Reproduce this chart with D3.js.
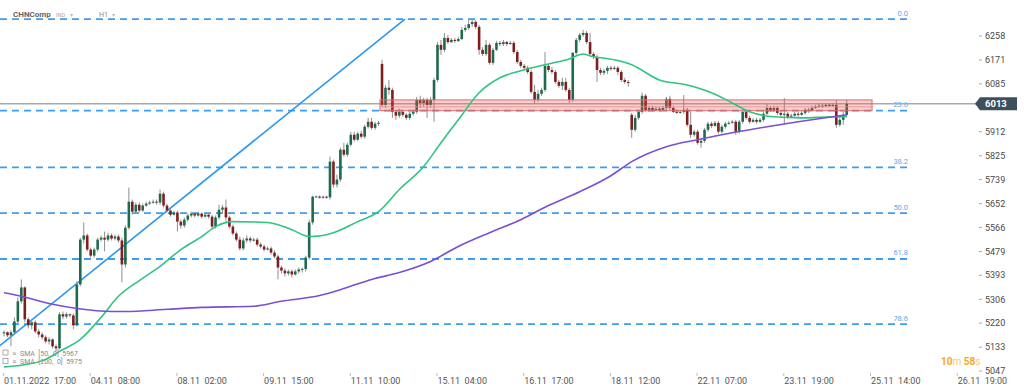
<!DOCTYPE html>
<html><head><meta charset="utf-8">
<script src="https://cdn.jsdelivr.net/npm/d3@7"></script>
<style>body{margin:0;background:#fff;} svg{display:block;font-family:Roboto,"Noto Sans",sans-serif;} text{white-space:pre;}</style>
</head><body><svg id="c" width="1024" height="391"></svg>
<script>
const title = "CHNComp", subType = "IND", timeframe = "H1";
const openP = [
5183,5187,5176,5187,5226,5299,5349,5234,5212,5223,
5190,5179,5169,5154,5161,5136,5129,5252,5244,5252,
5248,5212,5360,5522,5537,5486,5464,5486,5522,5529,
5522,5537,5526,5533,5519,5432,5565,5659,5623,5648,
5627,5645,5652,5656,5659,5656,5688,5645,5627,5612,
5620,5587,5573,5594,5609,5616,5609,5616,5605,5612,
5605,5569,5602,5630,5638,5602,5569,5544,5522,5490,
5519,5526,5519,5522,5504,5497,5486,5490,5475,5461,
5421,5410,5400,5407,5396,5407,5414,5416,5457,5584,
5677,5678,5674,5677,5675,5804,5721,5739,5847,5829,
5865,5901,5883,5905,5894,5930,5948,5926,5941,6157,
6009,6071,6063,5984,5970,5984,5973,5962,5977,5984,
6027,6016,6027,6009,6027,6099,6226,6208,6251,6236,
6244,6240,6247,6280,6287,6301,6309,6291,6208,6193,
6226,6161,6208,6233,6229,6236,6229,6233,6200,6164,
6150,6143,6128,6056,6027,6049,6063,6150,6135,6128,
6092,6078,6092,6063,6027,6197,6244,6262,6269,6236,
6193,6182,6135,6125,6132,6143,6139,6143,6128,6099,
6092,5973,5919,5962,5984,6042,5991,5998,5991,5995,
5991,5998,6031,5998,5984,5980,5984,5991,5937,5901,
5912,5872,5879,5919,5941,5933,5944,5912,5930,5941,
5944,5948,5912,5948,5984,5962,5948,5955,5948,5955,
5977,5998,5991,5998,5980,5973,5977,5966,5970,5977,
5973,5980,5991,5988,5998,6002,6006,6004,6009,6006,
6009,5937,5955,5973];
const highP = [
5194,5190,5194,5241,5313,5378,5353,5241,5234,5230,
5198,5187,5176,5169,5165,5143,5259,5262,5259,5255,
5255,5371,5529,5584,5544,5493,5493,5529,5537,5551,
5547,5544,5540,5540,5529,5573,5710,5667,5656,5656,
5652,5659,5663,5667,5667,5703,5695,5652,5634,5627,
5627,5594,5602,5616,5623,5620,5623,5620,5620,5620,
5612,5609,5648,5648,5667,5609,5576,5551,5533,5529,
5537,5533,5529,5529,5511,5504,5497,5497,5483,5468,
5428,5418,5414,5414,5414,5421,5421,5464,5594,5681,
5681,5681,5681,5681,5822,5811,5757,5854,5872,5872,
5912,5912,5912,5915,5937,5962,5962,5948,5951,6172,
6081,6099,6071,5991,5995,5991,5980,5984,5991,6038,
6042,6034,6034,6038,6107,6236,6244,6269,6262,6251,
6251,6255,6291,6298,6316,6319,6316,6298,6218,6244,
6233,6215,6240,6240,6244,6240,6240,6240,6208,6172,
6157,6150,6135,6081,6063,6071,6200,6157,6146,6135,
6099,6107,6107,6071,6200,6251,6269,6280,6276,6269,
6200,6190,6143,6139,6150,6150,6150,6150,6135,6107,
6099,5980,5973,5991,6053,6049,6006,6006,6002,6002,
6006,6038,6042,6006,5991,5991,6045,5998,5984,5919,
5919,5887,5926,5948,5948,5951,5951,5937,5948,5951,
5955,5955,5955,5991,5991,5970,5962,5962,5962,5991,
6013,6006,6006,6006,5988,6034,5984,5977,5984,5984,
5988,5998,5998,6006,6009,6013,6013,6013,6013,6016,
6027,5973,5984,6027];
const lowP = [
5172,5169,5136,5179,5219,5291,5223,5201,5198,5183,
5169,5161,5147,5143,5129,5118,5125,5234,5237,5241,
5198,5208,5353,5508,5479,5457,5457,5479,5515,5479,
5515,5519,5519,5511,5367,5421,5558,5612,5616,5620,
5623,5641,5648,5652,5648,5648,5638,5620,5605,5609,
5551,5562,5565,5587,5602,5602,5605,5598,5602,5598,
5562,5562,5594,5616,5587,5562,5537,5515,5483,5483,
5511,5511,5515,5497,5490,5479,5483,5468,5454,5378,
5400,5389,5392,5385,5392,5400,5403,5407,5450,5576,
5674,5670,5670,5670,5667,5710,5710,5731,5822,5822,
5858,5876,5879,5887,5887,5923,5919,5919,5933,6002,
5998,6045,5962,5955,5962,5966,5955,5955,5970,5977,
5998,6002,5962,5998,5948,6092,6190,6200,6229,6233,
6233,6236,6244,6273,6280,6291,6283,6190,6186,6186,
6154,6154,6204,6222,6222,6222,6226,6193,6157,6143,
6135,6121,6049,6013,6020,6042,6056,6128,6121,6085,
6071,6063,6056,6016,6020,6190,6236,6255,6229,6186,
6175,6092,6117,6117,6121,6132,6135,6117,6092,6085,
6074,5890,5912,5955,5977,5984,5984,5984,5988,5984,
5988,5991,5991,5980,5977,5977,5977,5930,5890,5894,
5865,5854,5872,5912,5926,5930,5905,5905,5923,5937,
5941,5901,5905,5941,5955,5941,5944,5941,5944,5948,
5973,5984,5984,5973,5966,5937,5959,5962,5966,5966,
5970,5973,5980,5984,5995,5998,5998,6002,6002,6002,
5926,5930,5937,5966];
const closeP = [
5187,5176,5187,5226,5299,5349,5234,5212,5223,5190,
5179,5169,5154,5161,5136,5129,5252,5244,5252,5248,
5212,5360,5522,5537,5486,5464,5486,5522,5529,5522,
5537,5526,5533,5519,5432,5565,5659,5623,5648,5627,
5645,5652,5656,5659,5656,5688,5645,5627,5612,5620,
5587,5573,5594,5609,5616,5609,5616,5605,5612,5605,
5569,5602,5630,5638,5602,5569,5544,5522,5490,5519,
5526,5519,5522,5504,5497,5486,5490,5475,5461,5421,
5410,5400,5407,5396,5407,5414,5416,5457,5584,5677,
5678,5674,5677,5675,5804,5721,5739,5847,5829,5865,
5901,5883,5905,5894,5930,5948,5926,5941,5944,6009,
6071,6063,5984,5970,5984,5973,5962,5977,5984,6027,
6016,6027,6009,6027,6099,6226,6208,6251,6236,6244,
6240,6247,6280,6287,6301,6309,6291,6208,6193,6226,
6161,6208,6233,6229,6236,6229,6233,6200,6164,6150,
6143,6128,6056,6027,6049,6063,6150,6135,6128,6092,
6078,6092,6063,6027,6197,6244,6262,6269,6236,6193,
6182,6135,6125,6132,6143,6139,6143,6128,6099,6092,
6089,5919,5962,5984,6042,5991,5998,5991,5995,5991,
5998,6031,5998,5984,5980,5984,5991,5937,5901,5912,
5872,5879,5919,5941,5933,5944,5912,5930,5941,5944,
5948,5912,5948,5984,5962,5948,5955,5948,5955,5977,
5998,5991,5998,5980,5973,5977,5966,5970,5977,5973,
5980,5991,5988,5998,6002,6006,6004,6009,6006,6009,
5937,5955,5973,6013];

const sma50Idx = [0,5,12,16,22,28,33,39,45,51,57,61,66,76,83,88,95,102,108,114,121,126,131,137,143,149,157,163,167,169,176,181,189,197,204,210,215,222,230,239,243];
const sma50Val = [5062,5068,5089,5118,5161,5241,5317,5374,5425,5486,5533,5569,5587,5584,5558,5533,5547,5587,5623,5703,5786,5872,5955,6053,6107,6132,6157,6175,6193,6186,6172,6154,6099,6081,6053,6016,5984,5966,5962,5966,5966];
const sma200Idx = [0,4,14,21,31,35,47,57,72,80,91,98,106,114,123,131,140,149,157,166,175,181,191,200,210,220,229,239,243];
const sma200Val = [5330,5320,5288,5273,5262,5262,5270,5277,5281,5299,5320,5345,5378,5403,5443,5497,5547,5594,5645,5695,5753,5804,5858,5883,5908,5930,5948,5966,5973];
const legendSMA = ["SMA  [50,  0]  5967", "SMA  [200,  0]  5975"];

const fibLabels = ["0.0","23.6","38.2","50.0","61.8","78.6"];
const fibRatios = [0, 0.236, 0.382, 0.5, 0.618, 0.786];
const fibHigh = 6319, fibLow = 4916;
const trendIdx = [-1.2, 115.6], trendVal = [5139, 6319];
const zoneIdx = [108.4, 250.3], zoneVal = [6027, 5988], zoneMid = 6002;
const lastPrice = 6013;

const yTicks = [6258,6171,6085,5999,5912,5825,5739,5652,5566,5479,5393,5306,5220,5133,5047];
const xTickIdx = [0,25,50,75,100,125,150,175,200,225,250,275];
const xTickLabels = ["01.11.2022  17:00","04.11  08:00","08.11  02:00","09.11  15:00","11.11  10:00","15.11  04:00","16.11  17:00","18.11  12:00","22.11  07:00","23.11  19:00","25.11  14:00","26.11  19:00"];
const timerMin = "10", timerSec = "58";

const svg = d3.select("#c");
const x = d3.scaleLinear().domain([0, 275]).range([4, 957.7]);
const y = d3.scaleLinear().domain([5047, 6258]).range([371, 36]);

// fib lines
const fibVals = fibRatios.map(r => fibHigh - r * (fibHigh - fibLow));
const fg = svg.append("g");
fibVals.forEach((v, k) => {
  fg.append("line").attr("x1", 0).attr("x2", 907).attr("y1", y(v)).attr("y2", y(v))
    .attr("stroke", "#3f9df0").attr("stroke-width", 1.8).attr("stroke-dasharray", "7,5");
  fg.append("text").attr("x", 908).attr("y", y(v) - 3.5).attr("text-anchor", "end")
    .attr("font-size", 7.5).attr("fill", "#5aaaf0").text(fibLabels[k]);
});

// last price line
svg.append("line").attr("x1", 0).attr("x2", 976).attr("y1", y(lastPrice)).attr("y2", y(lastPrice))
  .attr("stroke", "#a9a9a9").attr("stroke-width", 1.5);

// trend line
svg.append("line").attr("x1", x(trendIdx[0])).attr("y1", y(trendVal[0]))
  .attr("x2", x(trendIdx[1])).attr("y2", y(trendVal[1]))
  .attr("stroke", "#2b98f0").attr("stroke-width", 1.6);

// candles
const cg = svg.append("g");
const bw = 2.6;
closeP.forEach((c, i) => {
  const o = openP[i];
  const hi = Math.max(highP[i], o, c), lo = Math.min(lowP[i], o, c);
  const cx = x(i);
  cg.append("line").attr("x1", cx).attr("x2", cx).attr("y1", y(hi)).attr("y2", y(lo))
    .attr("stroke", "#8f8f8f").attr("stroke-width", 1);
  const top = y(Math.max(o, c)), h = Math.max(1, Math.abs(y(o) - y(c)));
  cg.append("rect").attr("x", cx - bw / 2).attr("y", top).attr("width", bw).attr("height", h)
    .attr("fill", c >= o ? "#1e6a4c" : "#801e1e");
});

// zone
svg.append("rect").attr("x", x(zoneIdx[0])).attr("y", y(zoneVal[0]))
  .attr("width", x(zoneIdx[1]) - x(zoneIdx[0])).attr("height", y(zoneVal[1]) - y(zoneVal[0]))
  .attr("fill", "rgba(235,80,80,0.28)").attr("stroke", "#e26a6a").attr("stroke-width", 1);
svg.append("line").attr("x1", x(zoneIdx[0])).attr("x2", x(zoneIdx[1])).attr("y1", y(zoneMid)).attr("y2", y(zoneMid))
  .attr("stroke", "#e88a8a").attr("stroke-width", 0.8);

// SMAs
const line = d3.line().x(d => x(d[0])).y(d => y(d[1])).curve(d3.curveMonotoneX);
svg.append("path").attr("d", line(sma50Idx.map((d, k) => [d, sma50Val[k]])))
  .attr("fill", "none").attr("stroke", "#2fc482").attr("stroke-width", 1.6);
svg.append("path").attr("d", line(sma200Idx.map((d, k) => [d, sma200Val[k]])))
  .attr("fill", "none").attr("stroke", "#7a4fd3").attr("stroke-width", 1.6);

// y axis
const ya = svg.append("g");
yTicks.forEach(v => {
  ya.append("line").attr("x1", 979).attr("x2", 982).attr("y1", y(v)).attr("y2", y(v)).attr("stroke", "#aaa");
  if (Math.abs(y(v) - y(lastPrice)) > 8)
    ya.append("text").attr("x", 985).attr("y", y(v) + 3.2).attr("font-size", 9).attr("fill", "#4a4a4a").text(v);
});
// last price label
const ly = y(lastPrice);
svg.append("path").attr("d", `M975,${ly} L980,${ly-6.5} L1017,${ly-6.5} L1017,${ly+6.5} L980,${ly+6.5} Z`).attr("fill", "#3e4f5c");
svg.append("text").attr("x", 985).attr("y", ly + 3.4).attr("font-size", 9.5).attr("font-weight", "bold").attr("fill", "#fff").text(lastPrice);

// x axis
xTickIdx.forEach((ix, k) => {
  svg.append("line").attr("x1", x(ix) - 0.5).attr("x2", x(ix) - 0.5).attr("y1", 373).attr("y2", 376).attr("stroke", "#bbb");
  svg.append("text").attr("x", x(ix)).attr("y", 383.5).attr("font-size", 9).attr("fill", "#555").text(xTickLabels[k]);
});

// timer
const tt = svg.append("text").attr("x", 941).attr("y", 365).attr("font-size", 10);
tt.append("tspan").attr("fill", "#f5a623").attr("font-weight", "bold").text(timerMin);
tt.append("tspan").attr("fill", "#f7c779").text("m ");
tt.append("tspan").attr("fill", "#f5a623").attr("font-weight", "bold").text(timerSec);
tt.append("tspan").attr("fill", "#f7c779").text("s");

// top-left legend
svg.append("text").attr("x", 13).attr("y", 17).attr("font-size", 8).attr("font-weight", "bold").attr("fill", "#666").text(title);
svg.append("text").attr("x", 56).attr("y", 16.5).attr("font-size", 5.5).attr("fill", "#aaa").text(subType);
svg.append("text").attr("x", 70).attr("y", 16.5).attr("font-size", 6).attr("fill", "#bbb").text("▾");
svg.append("text").attr("x", 99).attr("y", 17).attr("font-size", 7).attr("fill", "#888").text(timeframe);
svg.append("text").attr("x", 112).attr("y", 16.5).attr("font-size", 6).attr("fill", "#bbb").text("▾");

// bottom-left SMA legend
legendSMA.forEach((t, k) => {
  const by = 355.5 + k * 8.5;
  svg.append("rect").attr("x", 3).attr("y", by - 5.5).attr("width", 5).attr("height", 5).attr("fill", "none").attr("stroke", "#999").attr("stroke-width", 0.8);
  svg.append("text").attr("x", 12.5).attr("y", by).attr("font-size", 7).attr("fill", "#999").text("×");
  svg.append("text").attr("x", 20).attr("y", by).attr("font-size", 7).attr("fill", "#8a8a8a").text(t);
});
</script></body></html>
